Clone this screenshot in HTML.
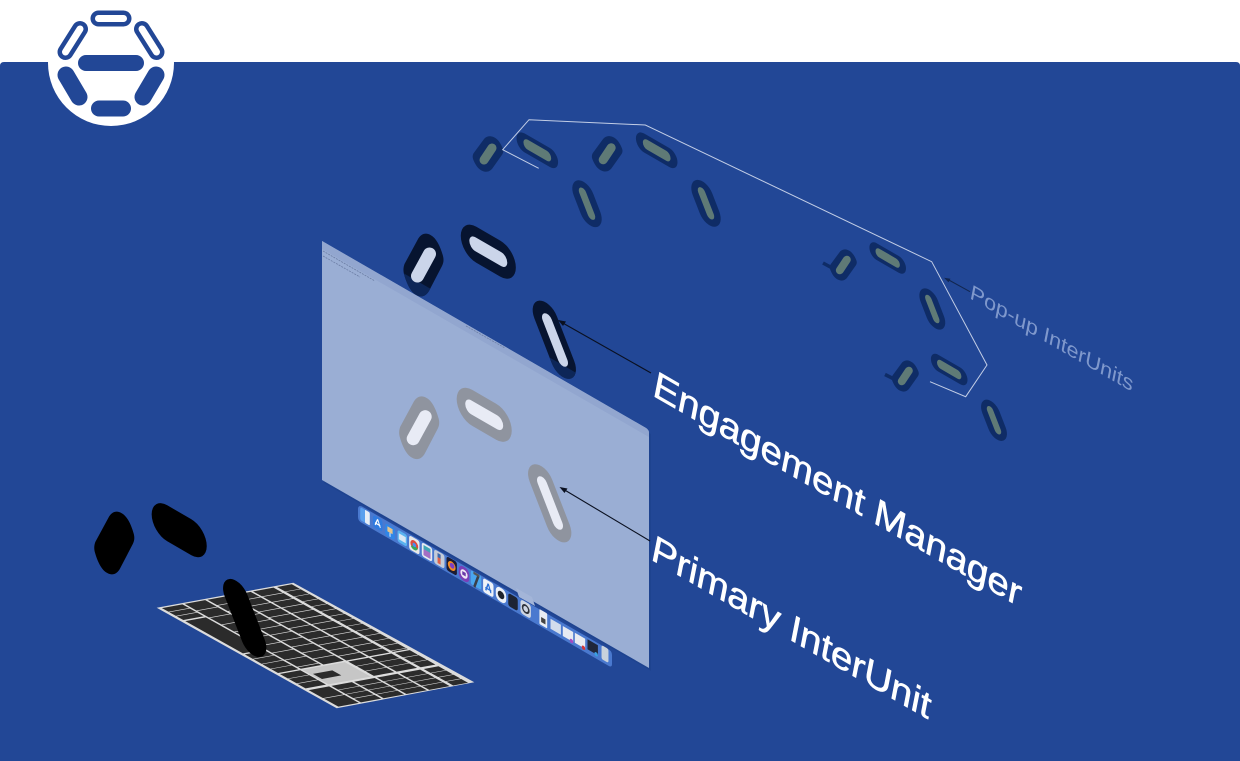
<!DOCTYPE html>
<html><head><meta charset="utf-8"><style>
html,body{margin:0;padding:0;background:#fff;width:1240px;height:761px;overflow:hidden}
svg{display:block}
text{font-family:"Liberation Sans",sans-serif}
</style></head><body>
<svg width="1240" height="761" viewBox="0 0 1240 761" xmlns="http://www.w3.org/2000/svg">
<defs>
<path id="oa" d="M-19,-1 L-6,-25 C-3,-31 2,-33 7,-30 C13,-27 17,-18 19.500,-9 C20.500,-5 20,-2 18.500,1 L6,25 C3,31 -2,33 -7,30 C-13,27 -17,18 -19.500,9 C-20.500,5 -20,2 -19,-1Z"/>
<rect id="ob" x="-31.800" y="-18" width="63.600" height="36" rx="18" transform="matrix(.866,.5,0,1,0,0)"/>
<rect id="oc" x="-35" y="-15" width="70" height="30" rx="15" transform="matrix(.866,.5,0,1,0,0) rotate(60)"/>
<rect id="ib" x="-21.900" y="-7" width="43.800" height="14" rx="7" transform="matrix(.866,.5,0,1,0,0)"/>
<rect id="ic" x="-24" y="-6" width="48" height="12" rx="6" transform="matrix(.866,.5,0,1,0,0) rotate(60)"/>
<clipPath id="ca"><use href="#oa" x="423.5" y="265"/></clipPath>
<clipPath id="cc"><use href="#oc" x="554.3" y="339.7"/></clipPath>
<g id="pa"><use href="#oa" transform="scale(.765,.565)" fill="#0f2c66"/><line x1="-4" y1="6" x2="4" y2="-6" stroke="#5f7a76" stroke-width="9" stroke-linecap="round"/></g>
<g id="pb"><rect x="-24" y="-9.500" width="48" height="19" rx="9.500" fill="#0f2c66" transform="matrix(.866,.5,0,1,0,0)"/><rect x="-16" y="-5" width="32" height="10" rx="5" fill="#5f7a76" transform="matrix(.866,.5,0,1,0,0)"/></g>
<g id="pc"><rect x="-21" y="-13" width="42" height="26" rx="13" fill="#0f2c66" transform="matrix(.866,.5,0,1,0,0) rotate(60)"/><rect x="-14.500" y="-4.500" width="29" height="9" rx="4.500" fill="#5f7a76" transform="matrix(.866,.5,0,1,0,0) rotate(60)"/></g>
</defs>

<path d="M0,66 Q0,62 4,62 H1236 Q1240,62 1240,66 V761 H0Z" fill="#224796"/>

<!-- logo -->
<circle cx="111" cy="63" r="63" fill="#fff"/>
<g fill="none" stroke-linecap="round">
<line x1="98.5" y1="18.5" x2="123.5" y2="18.5" stroke="#224796" stroke-width="16"/>
<line x1="98.5" y1="18.5" x2="123.5" y2="18.5" stroke="#fff" stroke-width="7"/>
<line x1="65.500" y1="52" x2="80" y2="29" stroke="#224796" stroke-width="16"/>
<line x1="65.500" y1="52" x2="80" y2="29" stroke="#fff" stroke-width="7"/>
<line x1="156.500" y1="52" x2="142" y2="29" stroke="#224796" stroke-width="16"/>
<line x1="156.500" y1="52" x2="142" y2="29" stroke="#fff" stroke-width="7"/>
<line x1="86" y1="63" x2="136" y2="63" stroke="#224796" stroke-width="16"/>
<line x1="66" y1="75" x2="79" y2="97" stroke="#224796" stroke-width="17"/>
<line x1="156" y1="75" x2="143" y2="97" stroke="#224796" stroke-width="17"/>
<line x1="99" y1="108.5" x2="123" y2="108.5" stroke="#224796" stroke-width="16"/>
</g>

<!-- popup pills -->
<path d="M823,263 L834,269" stroke="#0f2c66" stroke-width="3.5" fill="none"/>
<path d="M885,374.500 L896,380" stroke="#0f2c66" stroke-width="3.500" fill="none"/>
<use href="#pa" x="488" y="154"/><use href="#pb" x="537.3" y="150.3"/><use href="#pc" x="587" y="203.7"/>
<use href="#pa" x="607.2" y="153.8"/><use href="#pb" x="656.7" y="150.3"/><use href="#pc" x="706" y="203.3"/>
<use href="#pa" transform="translate(843.3,265) scale(.88)"/><use href="#pb" transform="translate(887.7,258) scale(.88)"/><use href="#pc" transform="translate(932.300,309) scale(.88)"/>
<use href="#pa" transform="translate(905.3,376) scale(.88)"/><use href="#pb" transform="translate(949.2,369.5) scale(.88)"/><use href="#pc" transform="translate(994,420.3) scale(.88)"/>

<polyline points="538.7,168.3 502.7,149.7 529,119.700 645.3,125 931.7,261.7 987,365 965.700,396.700 930,381.700" fill="none" stroke="#c3cee6" stroke-width="1"/>

<!-- engagement manager -->
<g fill="#071430">
<use href="#oa" x="423.5" y="265"/><use href="#ob" x="488.3" y="251.7"/><use href="#oc" x="554.3" y="339.7"/>
</g>
<polygon points="322,226 649,415 649,430 322,241" fill="#0d2658" clip-path="url(#ca)"/>
<polygon points="322,226 649,415 649,430 322,241" fill="#0d2658" clip-path="url(#cc)"/>
<g fill="#cbd5ea">
<line x1="429.5" y1="254" x2="417.5" y2="276" stroke="#cbd5ea" stroke-width="13" stroke-linecap="round"/>
<use href="#ib" x="488.3" y="251.7"/><use href="#ic" x="555" y="340"/>
</g>

<!-- window -->
<polygon points="324,483 651,671 651,434 324,245" fill="#183a80" opacity=".3"/>
<path d="M322,241 L646,428 Q649,430 649,433 V668 L322,480Z" fill="#9aaed4"/>
<path d="M322,241 L646,428 Q649,430 649,433 V437 L322,249Z" fill="#92a6cf"/>
<g stroke="#6d7fa6" stroke-width=".8" fill="none" stroke-dasharray="2 1">
<path d="M323,251 L375,281"/><path d="M323,256 L360,277"/>
<path d="M466,326 L505,348"/>
</g>

<!-- primary -->
<g fill="#8f949f">
<use href="#oa" x="419.2" y="427.7"/><use href="#ob" x="484.2" y="414.8"/><use href="#oc" x="549.7" y="503.3"/>
</g>
<g fill="#e8ebf5">
<line x1="425.2" y1="416.7" x2="413.2" y2="438.7" stroke="#e8ebf5" stroke-width="13" stroke-linecap="round"/>
<use href="#ib" x="484.2" y="414.8"/><use href="#ic" x="550" y="503"/>
</g>

<!-- dock -->
<path d="M362,506.5 L608,649 Q612,651 612,655 V664 Q612,668 608,665.5 L362,523 Q358,521 358,517 V509 Q358,505 362,506.5Z" fill="#4a79cf"/>
<polygon points="516,588 532,597 535,606 519,597" fill="#a3b5d8"/>
<g transform="translate(365,516.700) matrix(.866,.5,0,1,0,0)"><rect x="-5.500" y="-7" width="11" height="13" rx="2" fill="#5aa0ee"/><rect x="0" y="-7" width="5.500" height="13" rx="1" fill="#e6edf6"/></g>
<g transform="translate(377.700,523.300) matrix(.866,.5,0,1,0,0)"><rect x="-5.500" y="-6" width="11" height="12" rx="3" fill="#2f7be0"/><path d="M0,-4 L-3,3 M0,-4 L3,3 M-3,1 H3" stroke="#fff" stroke-width="1.300"/></g>
<g transform="translate(390,531.700) matrix(.866,.5,0,1,0,0)"><rect x="-5.500" y="-6" width="11" height="12" rx="2.500" fill="#2f86e8"/><rect x="-3" y="-4" width="6" height="5" fill="#e5c48c"/><rect x="-.500" y="1" width="1" height="4" fill="#fff"/></g>
<g transform="translate(402.300,538.300) matrix(.866,.5,0,1,0,0)"><rect x="-5.500" y="-6" width="11" height="12" rx="2.500" fill="#5ab2f0"/><rect x="-4" y="-3" width="8" height="6" fill="#d8e6f4"/></g>
<g transform="translate(414.300,545) matrix(.866,.5,0,1,0,0)"><rect x="-6" y="-7" width="12" height="14" rx="2.500" fill="#e8e8e8"/><circle r="4.500" fill="#dd4b3e"/><path d="M0,0 L-4,3 A4.500,4.500 0 0 0 4,2Z" fill="#3aa757"/><circle r="2" fill="#4a8ef0"/></g>
<g transform="translate(427,552) matrix(.866,.5,0,1,0,0)"><rect x="-6" y="-7" width="12" height="14" rx="2.500" fill="#e6eaf0"/><rect x="-4" y="-5" width="8" height="10" fill="#3fa6b5"/><rect x="-4" y="-1" width="8" height="6" fill="#a56fc4"/></g>
<g transform="translate(439.300,559) matrix(.866,.5,0,1,0,0)"><rect x="-6" y="-7" width="12" height="14" rx="2.500" fill="#c5ccd8"/><rect x="-2" y="-5" width="3.500" height="10" fill="#e0614a"/><rect x="-2" y="-5" width="3.500" height="4" fill="#3a6bb0"/></g>
<g transform="translate(451.700,566) matrix(.866,.5,0,1,0,0)"><rect x="-6" y="-7" width="12" height="14" rx="2.500" fill="#1b1b33"/><circle r="4.500" fill="#f08a24"/><circle cx=".5" cy="-.5" r="2.600" fill="#7b3fc4"/></g>
<g transform="translate(464,574) matrix(.866,.5,0,1,0,0)"><rect x="-6" y="-7" width="12" height="14" rx="5" fill="#7a3fb8"/><circle r="4.200" fill="#f0e8f6"/><path d="M-2,-2 h4 v3.500 h-4Z" fill="#6a3aa8"/></g>
<g transform="translate(476,580) matrix(.866,.5,0,1,0,0)"><rect x="-6" y="-7" width="12" height="14" rx="2" fill="#4aa6ee"/><path d="M3,-6 L-2,8" stroke="#3a3f4a" stroke-width="2.500"/><rect x="-3" y="-7" width="7" height="2.500" fill="#555"/></g>
<g transform="translate(488.300,587.700) matrix(.866,.5,0,1,0,0)"><rect x="-6" y="-7" width="12" height="14" rx="2.500" fill="#eef2f8"/><path d="M0,-4 L-3,4 M0,-4 L3,4 M-3.500,1.500 H3.500" stroke="#2b6fd6" stroke-width="1.500"/></g>
<g transform="translate(501,595) matrix(.866,.5,0,1,0,0)"><rect x="-6" y="-7" width="12" height="14" rx="5" fill="#eef2f8"/><circle r="3.800" fill="#20242c"/></g>
<g transform="translate(513,602) matrix(.866,.5,0,1,0,0)"><rect x="-5.500" y="-6.500" width="11" height="13" rx="2.500" fill="#1d2433"/></g>
<g transform="translate(525.700,609) matrix(.866,.5,0,1,0,0)"><rect x="-6" y="-7" width="12" height="14" rx="3" fill="#cfd6e2"/><circle r="3.600" fill="none" stroke="#30343c" stroke-width="1.800"/></g>
<g transform="translate(543.300,619.300) matrix(.866,.5,0,1,0,0)"><rect x="-4.500" y="-8" width="9" height="15" rx="1" fill="#e9edf3"/><rect x="-2.500" y="-1" width="5" height="5" fill="#444"/></g>
<g transform="translate(555.700,626.700) matrix(.866,.5,0,1,0,0)"><rect x="-6" y="-5" width="12" height="10" fill="#d2dcec"/></g>
<g transform="translate(568,634) matrix(.866,.5,0,1,0,0)"><rect x="-6" y="-5" width="12" height="10" fill="#e6eaf2"/><circle cx="4" cy="5" r="2" fill="#a44bc2"/></g>
<g transform="translate(580,640.700) matrix(.866,.5,0,1,0,0)"><rect x="-6" y="-5" width="12" height="10" fill="#e9ebf0"/><circle cx="4" cy="5" r="2" fill="#d0353a"/></g>
<g transform="translate(592.700,647.300) matrix(.866,.5,0,1,0,0)"><rect x="-6" y="-5" width="12" height="10" fill="#20273a"/><circle cx="4" cy="5" r="2" fill="#3a9ee0"/></g>
<g transform="translate(605,654) matrix(.866,.5,0,1,0,0)"><rect x="-4" y="-7" width="8" height="14" rx="2" fill="#c9d2dc"/></g>

<!-- keyboard -->
<polygon points="156.700,607.700 293.300,582.700 474.300,682.300 336.700,708.300" fill="#dcdcdc"/>
<g transform="matrix(1.800,1.006,2.277,-.417,156.700,607.700)" fill="none" stroke="#2b2b2b">
<rect x="66.500" y="11.400" width="14.500" height="18.600" fill="#c6c6c6" stroke="none"/>
<rect x="71" y="12.500" width="5" height="8.500" fill="#2b2b2b" stroke="none"/>
<g stroke-width="9">
<path d="M1,6 H13" stroke-dasharray="3.700 .4"/>
<path d="M14,6 H46"/>
<path d="M47,6 H65.500" stroke-dasharray="4.500 .4"/>
<path d="M66.500,6 H81" stroke-dasharray="4.500 .4"/>
<path d="M82.500,6 H99" stroke-dasharray="8 .5"/>
<path d="M1,16 H65.500" stroke-dasharray="6.500 .5"/>
<path d="M82.500,16 H99" stroke-dasharray="3.800 .4"/>
<path d="M1,26 H65.500" stroke-dasharray="5.400 .5"/>
<path d="M82.500,26 H99" stroke-dasharray="3.800 .4"/>
<path d="M1,36 H65.500" stroke-dasharray="5 .5"/>
<path d="M66.500,36 H81" stroke-dasharray="4.500 .4"/>
<path d="M82.500,36 H99" stroke-dasharray="3.800 .4"/>
<path d="M1,46 H65.500" stroke-dasharray="5 .5"/>
<path d="M66.500,46 H81" stroke-dasharray="4.500 .4"/>
<path d="M82.500,46 H99" stroke-dasharray="3.800 .4"/>
</g>
<path d="M1,55.300 H65.500" stroke-width="6.500" stroke-dasharray="4.500 .4"/>
<path d="M66.500,55.300 H81" stroke-width="6.500" stroke-dasharray="4.500 .4"/>
<path d="M82.500,55.300 H99" stroke-width="6.500" stroke-dasharray="3.800 .4"/>
</g>

<!-- black pills -->
<g fill="#000">
<use href="#oa" x="114.3" y="543"/><use href="#ob" x="179.2" y="530.2"/><use href="#oc" x="244.7" y="618"/>
</g>

<!-- arrows -->
<g fill="none" stroke="#0a1020" stroke-width="1.100">
<line x1="651" y1="373" x2="561" y2="322"/>
<line x1="650" y1="541" x2="563" y2="489"/>
</g>
<polygon points="558,320 566,321.500 563,326" fill="#0a1020"/>
<polygon points="559.500,487 567.500,488.500 564.500,493" fill="#0a1020"/>
<line x1="970" y1="291.700" x2="947" y2="279" stroke="#12264f" stroke-width="1"/>
<polygon points="944,277.700 950.500,278.700 948.500,282.300" fill="#12264f"/>

<!-- labels -->
<g fill="#fff" stroke="#fff" stroke-width=".6">
<text transform="matrix(.928,.535,-.175,.89,651.700,395)" font-size="40">Engagement Manager</text>
<text transform="matrix(.928,.535,-.175,.89,650,559)" font-size="40">Primary InterUnit</text>
</g>
<text transform="matrix(.928,.535,-.175,.89,969.300,298)" font-size="22.500" fill="#7f98cc">Pop-up InterUnits</text>
</svg>
</body></html>
